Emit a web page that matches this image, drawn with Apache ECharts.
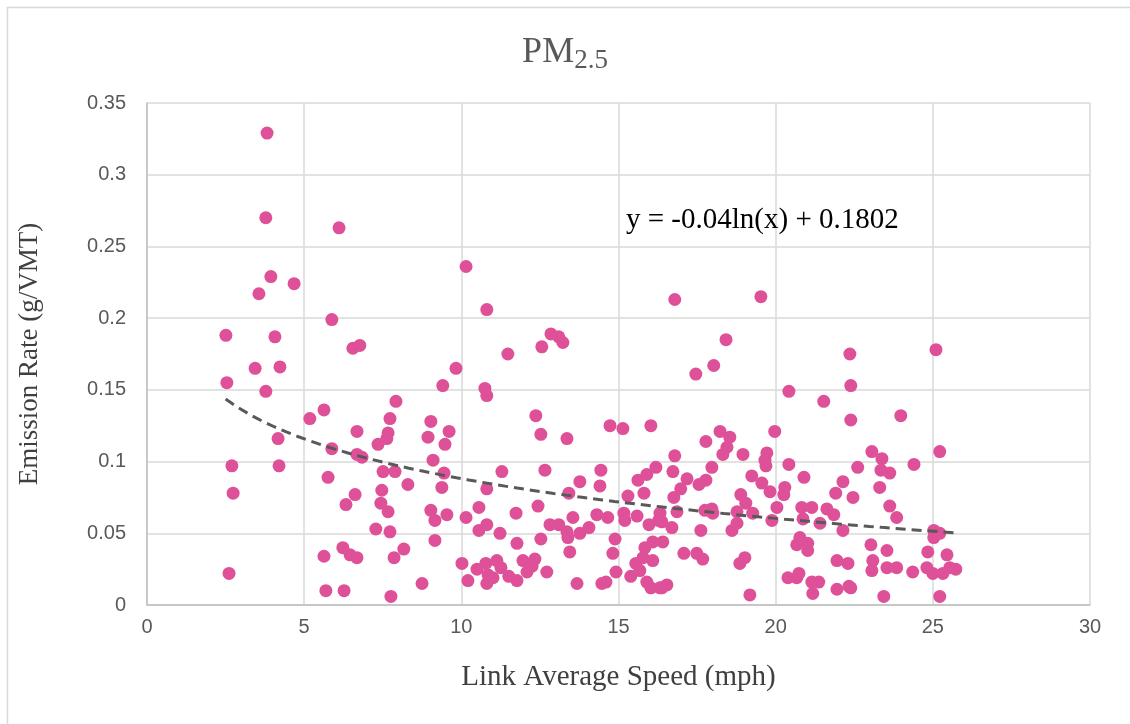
<!DOCTYPE html>
<html><head><meta charset="utf-8">
<script src="https://cdn.jsdelivr.net/npm/echarts@6/dist/echarts.min.js"></script>
<style>html,body{margin:0;padding:0;background:#fff}#c{width:1130px;height:724px}</style>
</head><body><div id="c"></div>
<script>
// Data points [speed (mph), emission rate (g/VMT)]
const speedMph = [2.51,2.54,2.61,2.70,2.74,3.82,3.78,3.94,3.56,3.44,3.78,4.07,4.23,4.17,4.20,4.68,5.18,5.63,5.88,6.11,6.55,6.77,5.88,5.76,5.63,5.69,6.33,6.23,6.27,6.46,6.68,6.62,6.68,6.68,6.84,7.28,7.35,7.44,7.47,7.51,7.67,7.63,7.73,7.67,7.73,7.76,7.86,7.89,7.92,8.17,8.30,8.75,8.94,9.03,9.03,9.10,9.16,9.16,9.41,9.45,9.38,9.48,9.54,9.61,9.83,10.02,10.15,10.15,10.21,10.50,10.56,10.56,10.75,10.81,10.81,10.81,10.81,10.78,10.85,11.01,10.81,11.13,11.23,11.26,11.29,11.48,11.51,11.74,11.77,11.77,11.96,12.09,12.25,12.34,12.37,12.44,12.53,12.53,12.56,12.66,12.72,12.82,12.85,13.10,13.23,13.10,13.36,13.36,13.39,13.45,13.42,13.55,13.68,13.77,13.77,14.06,14.31,14.41,14.44,14.47,14.60,14.66,14.73,14.82,14.89,14.92,15.14,15.17,15.20,15.30,15.39,15.55,15.59,15.62,15.68,15.78,15.81,15.84,15.90,15.90,15.97,16.03,16.03,16.09,16.09,16.19,16.28,16.32,16.32,16.38,16.38,16.41,16.54,16.70,16.73,16.76,16.79,16.79,16.86,16.98,17.08,17.18,17.46,17.49,17.56,17.62,17.68,17.75,17.78,17.78,17.97,17.97,18.00,18.03,18.23,18.32,18.42,18.45,18.54,18.61,18.77,18.77,18.86,18.89,18.96,19.02,19.05,19.18,19.24,19.27,19.53,19.56,19.66,19.69,19.72,19.82,19.88,19.97,20.04,20.26,20.29,20.39,20.42,20.42,20.67,20.67,20.74,20.77,20.83,20.87,20.90,21.02,21.02,21.15,21.15,21.18,21.37,21.41,21.53,21.63,21.85,21.91,21.95,21.95,22.14,22.14,22.30,22.33,22.39,22.36,22.39,22.39,22.46,22.61,23.03,23.06,23.06,23.09,23.31,23.35,23.38,23.44,23.54,23.54,23.63,23.63,23.85,23.85,23.98,24.36,24.40,24.81,24.84,25.00,25.03,25.03,25.10,25.22,25.22,25.22,25.32,25.45,25.54,25.73];
const emissionRate = [0.188,0.155,0.022,0.097,0.078,0.329,0.270,0.229,0.217,0.165,0.149,0.187,0.166,0.116,0.097,0.224,0.130,0.136,0.199,0.263,0.179,0.181,0.109,0.089,0.034,0.010,0.070,0.040,0.010,0.035,0.033,0.077,0.121,0.105,0.103,0.053,0.112,0.071,0.080,0.093,0.120,0.116,0.130,0.065,0.051,0.006,0.033,0.093,0.142,0.039,0.084,0.015,0.117,0.128,0.066,0.101,0.045,0.059,0.153,0.092,0.082,0.112,0.063,0.121,0.165,0.029,0.061,0.236,0.017,0.025,0.052,0.068,0.151,0.146,0.206,0.081,0.056,0.029,0.021,0.019,0.015,0.031,0.050,0.026,0.093,0.175,0.020,0.064,0.017,0.043,0.031,0.023,0.027,0.032,0.132,0.069,0.119,0.046,0.180,0.094,0.023,0.056,0.189,0.187,0.183,0.056,0.116,0.051,0.047,0.037,0.078,0.061,0.015,0.050,0.086,0.054,0.063,0.083,0.094,0.015,0.016,0.061,0.125,0.036,0.046,0.023,0.123,0.064,0.059,0.076,0.020,0.029,0.062,0.087,0.024,0.033,0.078,0.040,0.016,0.091,0.056,0.125,0.012,0.044,0.031,0.096,0.059,0.012,0.064,0.058,0.012,0.044,0.014,0.054,0.093,0.075,0.104,0.213,0.065,0.081,0.036,0.088,0.161,0.036,0.084,0.052,0.032,0.066,0.087,0.114,0.067,0.096,0.064,0.167,0.121,0.105,0.185,0.110,0.117,0.052,0.057,0.065,0.029,0.077,0.105,0.033,0.071,0.007,0.090,0.064,0.215,0.085,0.101,0.097,0.106,0.079,0.059,0.121,0.068,0.077,0.082,0.019,0.149,0.098,0.042,0.019,0.022,0.047,0.068,0.060,0.089,0.043,0.038,0.068,0.016,0.008,0.016,0.057,0.142,0.067,0.063,0.078,0.031,0.011,0.086,0.052,0.029,0.013,0.012,0.175,0.153,0.129,0.075,0.096,0.042,0.107,0.024,0.031,0.082,0.094,0.102,0.006,0.038,0.026,0.092,0.069,0.061,0.026,0.132,0.023,0.098,0.026,0.037,0.022,0.052,0.047,0.178,0.107,0.050,0.006,0.022,0.035,0.026,0.025];
// Logarithmic trendline y = a ln(x) + b, as printed on the chart
const trendA = -0.04, trendB = 0.1802;
const trendXRange = [2.5, 25.7];
const xTicks = {min: 0, max: 30, interval: 5};
const yTicks = {min: 0, max: 0.35, interval: 0.05};
const titleMain = 'PM', titleSub = '2.5';
const equationText = 'y = -0.04ln(x) + 0.1802';

const points = speedMph.map((x, i) => [x, emissionRate[i]]);
const trend = [];
for (let k = 0; k <= 60; k++) {
  const x = trendXRange[0] + (trendXRange[1] - trendXRange[0]) * k / 60;
  trend.push([x, trendA * Math.log(x) + trendB]);
}

const chart = echarts.init(document.getElementById('c'));
const serif = '"Liberation Serif", "Times New Roman", serif';
const sans = '"Liberation Sans", Arial, sans-serif';
chart.setOption({
  animation: false,
  backgroundColor: '#fff',
  title: {
    text: '{m|' + titleMain + '}{s|' + titleSub + '}',
    left: 'center', top: 26,
    textStyle: {
      fontWeight: 'normal',
      rich: {
        m: {fontFamily: serif, fontSize: 36, fontWeight: 'normal', color: '#595959', verticalAlign: 'bottom', lineHeight: 40},
        s: {fontFamily: serif, fontSize: 27, fontWeight: 'normal', color: '#595959', verticalAlign: 'bottom', lineHeight: 40, padding: [0,0,-3,0]}
      }
    }
  },
  grid: {left: 147, right: 40, top: 103, bottom: 119},
  xAxis: {
    type: 'value', min: xTicks.min, max: xTicks.max, interval: xTicks.interval,
    name: 'Link Average Speed (mph)', nameLocation: 'middle', nameGap: 58,
    nameTextStyle: {fontFamily: serif, fontSize: 29, color: '#404040'},
    axisLine: {show: true, lineStyle: {color: '#BFBFBF', width: 1.5}},
    axisTick: {show: false},
    axisLabel: {fontFamily: sans, fontSize: 20, color: '#595959', margin: 12},
    splitLine: {show: true, lineStyle: {color: '#D9D9D9', width: 1.5}}
  },
  yAxis: {
    type: 'value', min: yTicks.min, max: yTicks.max, interval: yTicks.interval,
    name: 'Emission Rate (g/VMT)', nameLocation: 'middle', nameGap: 104, nameRotate: 90,
    nameTextStyle: {fontFamily: serif, fontSize: 27, color: '#404040'},
    axisLine: {show: true, lineStyle: {color: '#BFBFBF', width: 1.5}},
    axisTick: {show: false},
    axisLabel: {fontFamily: sans, fontSize: 20, color: '#595959', margin: 21,
      formatter: v => String(parseFloat(v.toFixed(2)))},
    splitLine: {show: true, lineStyle: {color: '#D9D9D9', width: 1.5}}
  },
  series: [
    {type: 'scatter', data: points, symbolSize: 13,
     itemStyle: {color: '#DE5199', opacity: 1}, z: 2},
    {type: 'line', data: trend, showSymbol: false, smooth: false,
     lineStyle: {color: '#595959', width: 3, type: [10, 6]}, z: 3}
  ],
  graphic: [
    {type: 'rect', shape: {x: 7.5, y: 7.5, width: 1140, height: 740},
     style: {fill: null, stroke: '#D9D9D9', lineWidth: 1.5}, silent: true},
    {type: 'text', left: 626, top: 206, z: 10,
     style: {text: equationText, font: '29px ' + serif, fill: '#000'}}
  ]
});
</script></body></html>
